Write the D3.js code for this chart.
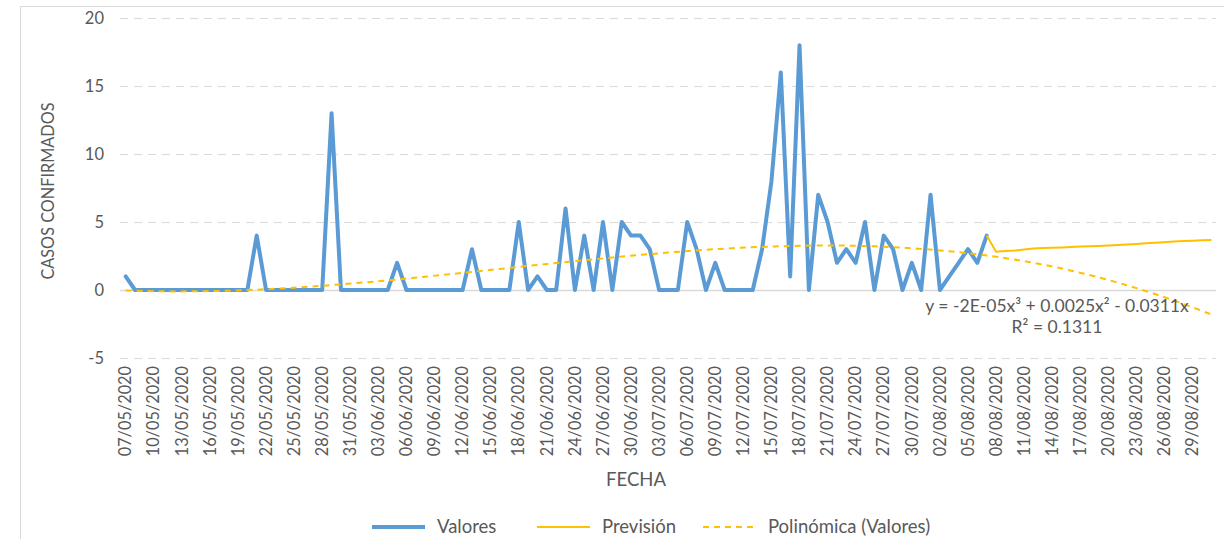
<!DOCTYPE html>
<html lang="es">
<head>
<meta charset="UTF-8">
<title>Casos confirmados</title>
<script src="https://cdnjs.cloudflare.com/ajax/libs/d3/7.8.5/d3.min.js"></script>
<style>
    body{ margin:0; background:#fff; font-family:Lato, "Open Sans", sans-serif; }
    svg{ display:block; }
</style>
</head>
<body>
<svg id="chart" width="1224" height="539"></svg>
<script>
// ---- data ----
const startDate = new Date(2020, 4, 7);   // 07/05/2020
const nDays = 117;                         // until 31/08/2020

// daily confirmed cases, 07/05 .. 07/08
const valores = [1,0,0,0,0,0,0,0,0,0, 0,0,0,0,4,0,0,0,0,0,
                 0,0,13,0,0,0,0,0,0,2, 0,0,0,0,0,0,0,3,0,0,
                 0,0,5,0,1,0,0,6,0,4, 0,5,0,5,4,4,3,0,0,0,
                 5,3,0,2,0,0,0,0,3,8, 16,1,18,0,7,5,2,3,2,5,
                 0,4,3,0,2,0,7,0,1,2, 3,2,4];

// forecast 07/08 .. 31/08
const prevision = [4,2.82,2.86,2.9,2.97,3.05,3.08,3.1,3.13,3.16,3.19,3.22,3.24,
                   3.27,3.31,3.35,3.39,3.43,3.48,3.52,3.56,3.6,3.63,3.66,3.68];
const previsionStart = 92;

// polynomial trendline, every 4 days
const trendDay = [0,4,8,12,16,20,24,28,32,36,40,44,48,52,56,60,64,68,72,76,80,84,88,92,96,100,104,108,112,116];
const trendVal = [-0.03,-0.1,-0.09,-0.03,0.09,0.26,0.47,0.71,0.98,1.26,1.55,1.84,2.12,2.39,2.64,2.86,3.04,3.17,3.25,3.27,3.21,3.07,2.85,2.54,2.12,1.58,0.92,0.14,-0.77,-1.8];

const yTicks = [-5,0,5,10,15,20];
const trendEq = "y = -2E-05x³ + 0.0025x² - 0.0311x";
const trendR2 = "R² = 0.1311";

// ---- chart ----
const svg = d3.select("#chart");
const textColor = "#595959";
const gridColor = "#d9d9d9";

const dates = d3.timeDay.range(startDate, d3.timeDay.offset(startDate, nDays));
const fmt = d3.timeFormat("%d/%m/%Y");

const x = d3.scaleBand().domain(d3.range(nDays)).range([121, 1216]);
const xc = i => x(i) + x.bandwidth()/2;
const y = d3.scaleLinear().domain([-5, 20]).range([358, 18]);

// outer border
svg.append("rect")
    .attr("x", 20.5).attr("y", 6.5)
    .attr("width", 1230).attr("height", 560)
    .attr("fill", "none").attr("stroke", gridColor);

// grid
svg.append("g").selectAll("line")
    .data(yTicks)
    .enter().append("line")
    .attr("x1", 120).attr("x2", 1216)
    .attr("y1", d => Math.round(y(d)) + 0.5)
    .attr("y2", d => Math.round(y(d)) + 0.5)
    .attr("stroke", gridColor)
    .attr("stroke-width", d => d === 0 ? 1.6 : 1.2)
    .attr("stroke-dasharray", d => d === 0 ? null : "8,6");

// y labels
svg.append("g").selectAll("text")
    .data(yTicks)
    .enter().append("text")
    .attr("x", 104).attr("y", d => y(d))
    .attr("dy", "0.35em")
    .attr("text-anchor", "end")
    .attr("fill", textColor)
    .style("font-size", "16.5px")
    .text(d => d);

// x labels every 3 days
svg.append("g").selectAll("text")
    .data(d3.range(0, nDays, 3))
    .enter().append("text")
    .attr("transform", i => `translate(${xc(i)},366) rotate(-90)`)
    .attr("dy", "0.35em")
    .attr("text-anchor", "end")
    .attr("fill", textColor)
    .style("font-size", "16.3px")
    .text(i => fmt(dates[i]));

// axis titles
svg.append("text")
    .attr("transform", "translate(48,191) rotate(-90)")
    .attr("dy", "0.35em")
    .attr("text-anchor", "middle")
    .attr("fill", textColor)
    .style("font-size", "16.3px")
    .text("CASOS CONFIRMADOS");

svg.append("text")
    .attr("x", 636).attr("y", 480)
    .attr("dy", "0.35em")
    .attr("text-anchor", "middle")
    .attr("fill", textColor)
    .style("font-size", "18.5px")
    .text("FECHA");

// series
const line = d3.line().x(d => xc(d[0])).y(d => y(d[1]));

svg.append("path")
    .datum(valores.map((v, i) => [i, v]))
    .attr("d", line)
    .attr("fill", "none")
    .attr("stroke", "#5b9bd5")
    .attr("stroke-width", 4)
    .attr("stroke-linejoin", "round")
    .attr("stroke-linecap", "round");

svg.append("path")
    .datum(prevision.map((v, i) => [previsionStart + i, v]))
    .attr("d", line)
    .attr("fill", "none")
    .attr("stroke", "#ffc000")
    .attr("stroke-width", 2);

svg.append("path")
    .datum(trendDay.map((d, i) => [d, trendVal[i]]))
    .attr("d", line.curve(d3.curveCatmullRom))
    .attr("fill", "none")
    .attr("stroke", "#ffc000")
    .attr("stroke-width", 2)
    .attr("stroke-dasharray", "6,5");

// trendline label (two separate lines)
svg.append("g").selectAll("text")
    .data([trendEq, trendR2])
    .enter().append("text")
    .attr("x", 1057)
    .attr("y", (d, i) => 312 + i * 21)
    .attr("text-anchor", "middle")
    .attr("fill", textColor)
    .style("font-size", "17.5px")
    .text(d => d);

// legend
const legend = [
    {name: "Valores", color: "#5b9bd5", width: 4, dash: null, x: 372},
    {name: "Previsión", color: "#ffc000", width: 2, dash: null, x: 537},
    {name: "Polinómica (Valores)", color: "#ffc000", width: 2, dash: "6,5", x: 703}
];
const lg = svg.append("g").selectAll("g")
    .data(legend)
    .enter().append("g")
    .attr("transform", d => `translate(${d.x},527)`);
lg.append("line")
    .attr("x1", 0).attr("x2", 53)
    .attr("stroke", d => d.color)
    .attr("stroke-width", d => d.width)
    .attr("stroke-dasharray", d => d.dash);
lg.append("text")
    .attr("x", 65).attr("dy", "0.35em")
    .attr("fill", textColor)
    .style("font-size", "18.5px")
    .text(d => d.name);
</script>
</body>
</html>
